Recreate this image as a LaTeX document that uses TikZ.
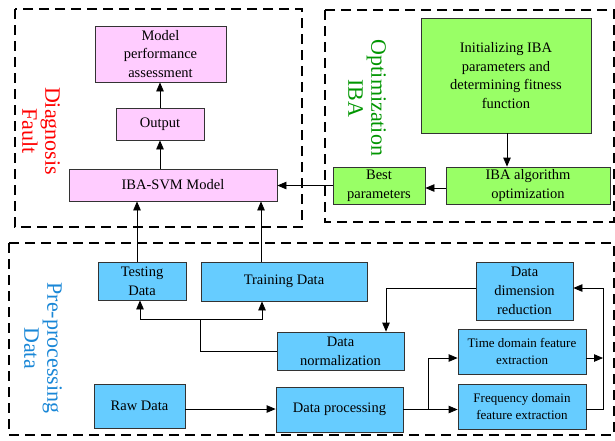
\documentclass[tikz,border=0pt]{standalone}
\usepackage{fontspec}
\setmainfont{Liberation Serif}
\usetikzlibrary{arrows.meta}
\definecolor{pinkfill}{RGB}{255,204,255}
\definecolor{greenfill}{RGB}{153,255,102}
\definecolor{bluefill}{RGB}{102,204,255}
\definecolor{lblred}{RGB}{255,0,0}
\definecolor{lblgreen}{RGB}{0,150,0}
\definecolor{lblblue}{RGB}{25,135,215}
\begin{document}
\begin{tikzpicture}[x=1pt,y=-1pt,
  box/.style={draw=black!80, line width=0.8pt, inner sep=0pt, align=center,
    font=\fontsize{14.5}{18.8}\selectfont},
  smallbox/.style={box, font=\fontsize{13}{17}\selectfont},
  pinkbox/.style={box, fill=pinkfill},
  greenbox/.style={box, fill=greenfill},
  bluebox/.style={box, fill=bluefill},
  bluesmall/.style={smallbox, fill=bluefill},
  frame/.style={draw=black, line width=2pt, dash pattern=on 10pt off 6pt},
  grouplabel/.style={rotate=-90, align=center, inner sep=0pt,
    font=\fontsize{22}{23}\selectfont},
  conn/.style={draw=black, line width=0.8pt},
  arr/.style={conn, -{Triangle[length=9pt,width=7.5pt]}}
]
\useasboundingbox (0,0) rectangle (615,440);
\fill[white] (0,0) rectangle (615,440);

% frames
\draw[frame] (15,9) rectangle (302,227);
\draw[frame] (325,10) rectangle (614,222);
\draw[frame] (9,243) rectangle (614,435);

% group labels
\node[grouplabel, text=lblred] (lblfault) at (41,131) {Diagnosis\\Fault};
\node[grouplabel, text=lblgreen] (lblopt) at (367,98) {Optimization\\IBA};
\node[grouplabel, text=lblblue] (lblpre) at (43,348) {Pre-processing\\Data};

% fault diagnosis nodes
\node[pinkbox, minimum width=131pt, minimum height=56pt] (mpa) at (160.5,54) {Model\\performance\\assessment};
\node[pinkbox, minimum width=88pt, minimum height=32pt] (out) at (160,124) {Output};
\node[pinkbox, minimum width=208pt, minimum height=32pt] (svm) at (173,185) {IBA-SVM Model};

% optimization nodes
\node[greenbox, minimum width=170pt, minimum height=115pt] (init) at (506,75.5) {Initializing IBA\\parameters and\\determining fitness\\function};
\node[greenbox, minimum width=164pt, minimum height=37pt] (iba) at (528,185.5) {IBA algorithm\\optimization};
\node[greenbox, minimum width=92pt, minimum height=37pt] (best) at (379,185.5) {Best\\parameters};

% pre-processing nodes
\node[bluebox, minimum width=88pt, minimum height=38pt] (test) at (142,281) {Testing\\Data};
\node[bluebox, minimum width=166pt, minimum height=39pt] (train) at (284,281.5) {Training Data};
\node[bluebox, minimum width=127pt, minimum height=38pt] (norm) at (340.5,351) {Data\\normalization};
\node[bluebox, minimum width=97pt, minimum height=58pt] (dim) at (524.5,291) {Data\\dimension\\reduction};
\node[bluesmall, minimum width=128pt, minimum height=45pt] (time) at (522,351.5) {Time domain feature\\extraction};
\node[bluesmall, minimum width=128pt, minimum height=45pt] (freq) at (522,406.5) {Frequency domain\\feature extraction};
\node[bluebox, minimum width=127pt, minimum height=45pt] (proc) at (339.5,409.5) {Data processing};
\node[bluebox, minimum width=91pt, minimum height=44pt] (raw) at (139.5,406) {Raw Data};

% connectors: fault diagnosis
\draw[arr] (svm.north -| out.south) -- (out.south);
\draw[arr] (out.north) -- (out.north |- mpa.south);
\draw[arr] ([xshift=-5pt]test.north) -- ([xshift=-5pt]test.north |- svm.south);
\draw[arr] ([xshift=-23pt]train.north) -- ([xshift=-23pt]train.north |- svm.south);

% connectors: optimization
\draw[arr] ([xshift=1pt]init.south) -- ([xshift=1pt]init.south |- iba.north);
\draw[arr] ([yshift=-2.5pt]iba.west) -- ([yshift=-2.5pt]iba.west -| best.east);
\draw[arr] (best.west) -- (best.west -| svm.east);

% connectors: pre-processing
\coordinate (br) at (200,319);
\draw[conn] (norm.west) -| (br);
\draw[arr] (br) -| ([xshift=-2pt]test.south);
\draw[arr] (br) -| ([xshift=-22pt]train.south);
\draw[arr] ([yshift=3pt]dim.west) -| ([xshift=45.5pt]norm.north);
\draw[arr] ([yshift=-3pt]raw.east) -- ([yshift=-3pt]raw.east -| proc.west);
\coordinate (sp) at (428,409.5);
\draw[conn] (proc.east) -- (sp);
\draw[arr] (sp) |- ([yshift=-6.5pt]time.west);
\draw[arr] (sp) -- (sp -| freq.west);
\coordinate (rj) at (603,288);
\draw[arr] ([yshift=-6.5pt]time.east) -- ([yshift=-6.5pt]time.east -| rj);
\draw[arr] ([yshift=-2.5pt]freq.east) -| (rj) -- ([yshift=3pt]dim.east);
\end{tikzpicture}
\end{document}
